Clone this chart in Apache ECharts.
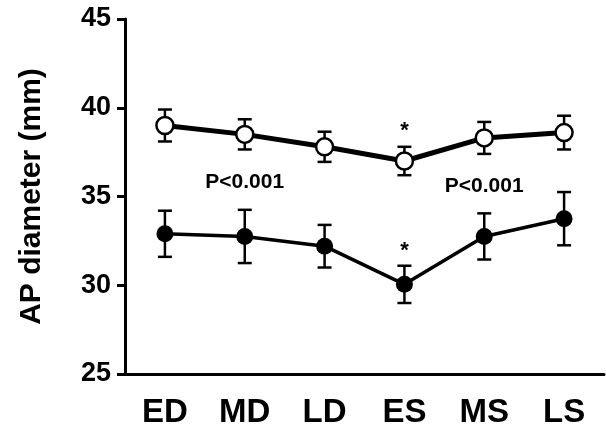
<!DOCTYPE html>
<html style="height: 100%">
<head>
<meta charset="utf-8">
<title>AP diameter</title>
<script src="https://cdn.jsdelivr.net/npm/echarts@6/dist/echarts.min.js"></script>
</head>
<body style="height: 100%; margin: 0; background: #fff">
<div id="main" style="width: 606px; height: 447px"></div>
<script type="text/javascript">
// data
var categories = ['ED', 'MD', 'LD', 'ES', 'MS', 'LS'];
var openMean = [39.0, 38.5, 37.8, 37.0, 38.3, 38.6];
var openErr = [0.9, 0.85, 0.85, 0.8, 0.9, 0.95];
var filledMean = [32.9, 32.75, 32.2, 30.05, 32.75, 33.75];
var filledErr = [1.3, 1.5, 1.2, 1.05, 1.3, 1.5];
var starPoints = [['ES', 38.7], ['ES', 31.95]];
var pNotes = [['MD', 35.8, 'P<0.001'], ['MS', 35.6, 'P<0.001']];

var font = "'Liberation Sans', Arial, sans-serif";

function errorSeries(mean, err) {
    return {
        type: 'custom',
        z: 1,
        encode: {x: 0, y: [1, 2]},
        data: mean.map(function (m, i) { return [i, m - err[i], m + err[i]]; }),
        renderItem: function (params, api) {
            var lo = api.coord([api.value(0), api.value(1)]);
            var hi = api.coord([api.value(0), api.value(2)]);
            var w = 7;
            var st = {stroke: '#000', lineWidth: 2.5};
            return {
                type: 'group',
                children: [
                    {type: 'line', shape: {x1: lo[0], y1: lo[1], x2: hi[0], y2: hi[1]}, style: st},
                    {type: 'line', shape: {x1: lo[0] - w, y1: lo[1], x2: lo[0] + w, y2: lo[1]}, style: st},
                    {type: 'line', shape: {x1: hi[0] - w, y1: hi[1], x2: hi[0] + w, y2: hi[1]}, style: st}
                ]
            };
        }
    };
}

var myChart = echarts.init(document.getElementById('main'));

var option = {
    animation: false,
    backgroundColor: '#fff',
    grid: {left: 125, right: 2, top: 19, bottom: 73},
    xAxis: {
        type: 'category',
        data: categories,
        boundaryGap: true,
        axisLine: {lineStyle: {color: '#000', width: 3}},
        axisTick: {show: false},
        axisLabel: {color: '#000', fontWeight: 'bold', fontSize: 33, fontFamily: font, margin: 22}
    },
    yAxis: {
        type: 'value',
        min: 25,
        max: 45,
        interval: 5,
        name: 'AP diameter (mm)',
        nameLocation: 'middle',
        nameGap: 78,
        nameTextStyle: {color: '#000', fontWeight: 'bold', fontSize: 30, fontFamily: font},
        splitLine: {show: false},
        axisLine: {show: true, lineStyle: {color: '#000', width: 3}},
        axisTick: {show: true, length: 8, lineStyle: {color: '#000', width: 3}},
        axisLabel: {color: '#000', fontWeight: 'bold', fontSize: 27, fontFamily: font, margin: 14}
    },
    series: [
        errorSeries(openMean, openErr),
        errorSeries(filledMean, filledErr),
        {
            type: 'line',
            z: 3,
            data: openMean,
            symbol: 'circle',
            symbolSize: 17,
            lineStyle: {color: '#000', width: 5},
            itemStyle: {color: '#fff', borderColor: '#000', borderWidth: 2.5}
        },
        {
            type: 'line',
            z: 3,
            data: filledMean,
            symbol: 'circle',
            symbolSize: 17,
            lineStyle: {color: '#000', width: 3.5},
            itemStyle: {color: '#000', borderColor: '#000', borderWidth: 0}
        },
        {
            type: 'scatter',
            z: 4,
            data: starPoints,
            symbolSize: 0,
            itemStyle: {opacity: 1},
            label: {show: true, position: 'inside', formatter: '*', color: '#000',
                fontWeight: 'bold', fontSize: 22, fontFamily: font}
        },
        {
            type: 'scatter',
            z: 4,
            data: pNotes,
            symbolSize: 0,
            itemStyle: {opacity: 1},
            label: {show: true, position: 'inside', color: '#000',
                fontWeight: 'bold', fontSize: 21, fontFamily: font,
                formatter: function (p) { return p.data[2]; }}
        }
    ]
};
myChart.setOption(option);
</script>
</body>
</html>
